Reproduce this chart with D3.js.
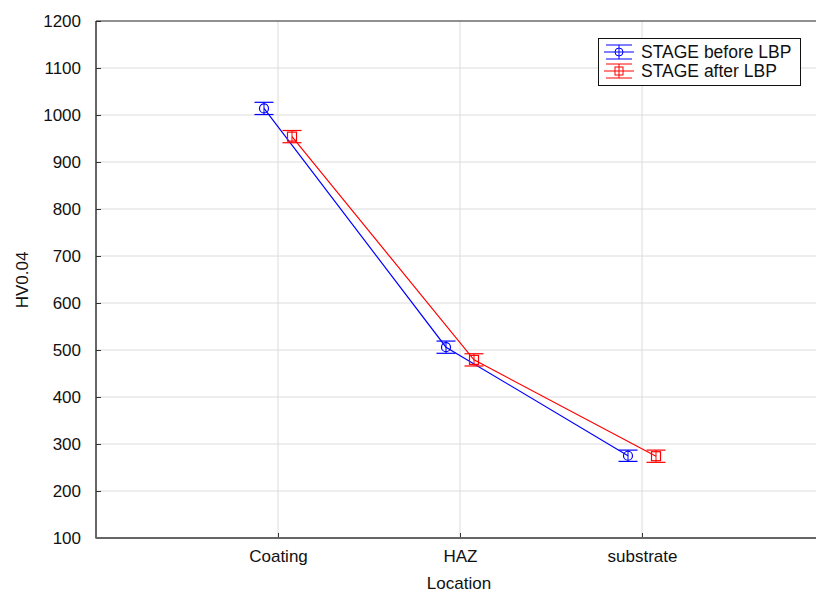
<!DOCTYPE html>
<html><head><meta charset="utf-8">
<script src="https://cdn.jsdelivr.net/npm/d3@7"></script>
<style>body{margin:0;background:#fff}svg{display:block;font-family:"Liberation Sans",Arial,sans-serif}</style>
</head><body><svg id="c" width="816" height="593"></svg>
<script>
const categories = ["Coating", "HAZ", "substrate"];
const seriesNames = ["STAGE before LBP", "STAGE after LBP"];
const beforeMean = [1014, 506, 275];
const beforeErr = [13, 13, 12];
const afterMean = [954, 479, 274];
const afterErr = [13, 13, 13];
const yTicks = [100,200,300,400,500,600,700,800,900,1000,1100,1200];

const svg = d3.select("#c");
const FS = 17;
const L = 96, T = 21, B = 538, Rfull = 824;
const x = d3.scalePoint().domain(["", ...categories, " "]).range([L, Rfull]);
const y = d3.scaleLinear().domain([100, 1200]).range([B, T]);

// grid
svg.append("g").selectAll("line").data(yTicks.slice(1,-1)).join("line")
  .attr("x1", L).attr("x2", 816).attr("y1", d=>y(d)).attr("y2", d=>y(d))
  .attr("stroke", "#dcdcdc").attr("stroke-width", 1);
svg.append("g").selectAll("line").data(categories).join("line")
  .attr("x1", d=>x(d)).attr("x2", d=>x(d)).attr("y1", T).attr("y2", B)
  .attr("stroke", "#dcdcdc").attr("stroke-width", 1);

// axes
const ya = svg.append("g").attr("transform", `translate(${L},0)`)
  .call(d3.axisRight(y).tickValues(yTicks).tickSize(5).tickFormat(d3.format("d")));
ya.select(".domain").remove();
ya.selectAll("line").attr("stroke", "#333");
ya.selectAll("text").attr("x", -15).attr("text-anchor", "end").attr("font-size", FS)
  .attr("fill", "#111").attr("font-family", "Liberation Sans, Arial");
const xa = svg.append("g").attr("transform", `translate(0,${B})`)
  .call(d3.axisTop(x).tickValues(categories).tickSize(5));
xa.select(".domain").remove();
xa.selectAll("line").attr("stroke", "#333");
xa.selectAll("text").attr("y", 24).attr("font-size", FS).attr("fill", "#111")
  .attr("font-family", "Liberation Sans, Arial");

svg.append("line").attr("x1", L).attr("x2", L).attr("y1", T).attr("y2", B+0.5).attr("stroke", "#333").attr("stroke-width", 1.5);
svg.append("line").attr("x1", L).attr("x2", 816).attr("y1", B).attr("y2", B).attr("stroke", "#666").attr("stroke-width", 2);
svg.append("line").attr("x1", L).attr("x2", 816).attr("y1", T).attr("y2", T).attr("stroke", "#222").attr("stroke-width", 1.2);

svg.append("text").attr("x", 459).attr("y", 589).attr("text-anchor", "middle")
  .attr("font-size", FS).attr("fill", "#111").text("Location");
svg.append("text").attr("transform", "translate(28,280) rotate(-90)").attr("text-anchor", "middle")
  .attr("font-size", FS).attr("fill", "#111").text("HV0.04");

const series = [
  {name: seriesNames[0], mean: beforeMean, err: beforeErr, color: "#0000ff", off: -14, shape: "circle"},
  {name: seriesNames[1], mean: afterMean, err: afterErr, color: "#ff0000", off: 14, shape: "square"}
];
series.forEach(s => {
  const g = svg.append("g");
  const pts = categories.map((c,i)=>({c, m: s.mean[i], e: s.err[i]}));
  g.append("path").datum(pts)
    .attr("d", d3.line().x(d=>x(d.c)+s.off).y(d=>y(d.m)))
    .attr("fill", "none").attr("stroke", s.color).attr("stroke-width", 1.2);
  const eg = g.selectAll("g.e").data(pts).join("g");
  eg.append("line").attr("x1", d=>x(d.c)+s.off).attr("x2", d=>x(d.c)+s.off)
    .attr("y1", d=>y(d.m+d.e)).attr("y2", d=>y(d.m-d.e)).attr("stroke", s.color);
  [1,-1].forEach(k => eg.append("line")
    .attr("x1", d=>x(d.c)+s.off-9.5).attr("x2", d=>x(d.c)+s.off+9.5)
    .attr("y1", d=>y(d.m+k*d.e)).attr("y2", d=>y(d.m+k*d.e)).attr("stroke", s.color).attr("stroke-width", 1.2));
  if (s.shape === "circle") {
    eg.append("circle").attr("cx", d=>x(d.c)+s.off).attr("cy", d=>y(d.m)).attr("r", 4.5)
      .attr("fill", "none").attr("stroke", s.color).attr("stroke-width", 1.2);
  } else {
    eg.append("rect").attr("x", d=>x(d.c)+s.off-4.5).attr("y", d=>y(d.m)-4.5).attr("width", 9).attr("height", 9)
      .attr("fill", "none").attr("stroke", s.color).attr("stroke-width", 1.2);
  }
});

// legend
const lg = svg.append("g");
lg.append("rect").attr("x", 598.5).attr("y", 38.5).attr("width", 202).attr("height", 47)
  .attr("fill", "#fff").attr("stroke", "#111").attr("stroke-width", 1);
series.forEach((s,i) => {
  const cy = 52 + i*19, cx = 619;
  lg.append("line").attr("x1", 604).attr("x2", 634).attr("y1", cy).attr("y2", cy).attr("stroke", s.color);
  lg.append("line").attr("x1", 606).attr("x2", 632).attr("y1", cy-7).attr("y2", cy-7).attr("stroke", s.color);
  lg.append("line").attr("x1", 606).attr("x2", 632).attr("y1", cy+7).attr("y2", cy+7).attr("stroke", s.color);
  lg.append("line").attr("x1", cx).attr("x2", cx).attr("y1", cy-7).attr("y2", cy+7).attr("stroke", s.color);
  if (s.shape === "circle") lg.append("circle").attr("cx", cx).attr("cy", cy).attr("r", 4).attr("fill", "none").attr("stroke", s.color);
  else lg.append("rect").attr("x", cx-4).attr("y", cy-4).attr("width", 8).attr("height", 8).attr("fill", "none").attr("stroke", s.color);
  lg.append("text").attr("x", 641).attr("y", cy+6).attr("font-size", 17.5).attr("fill", "#111").text(s.name);
});
</script></body></html>
